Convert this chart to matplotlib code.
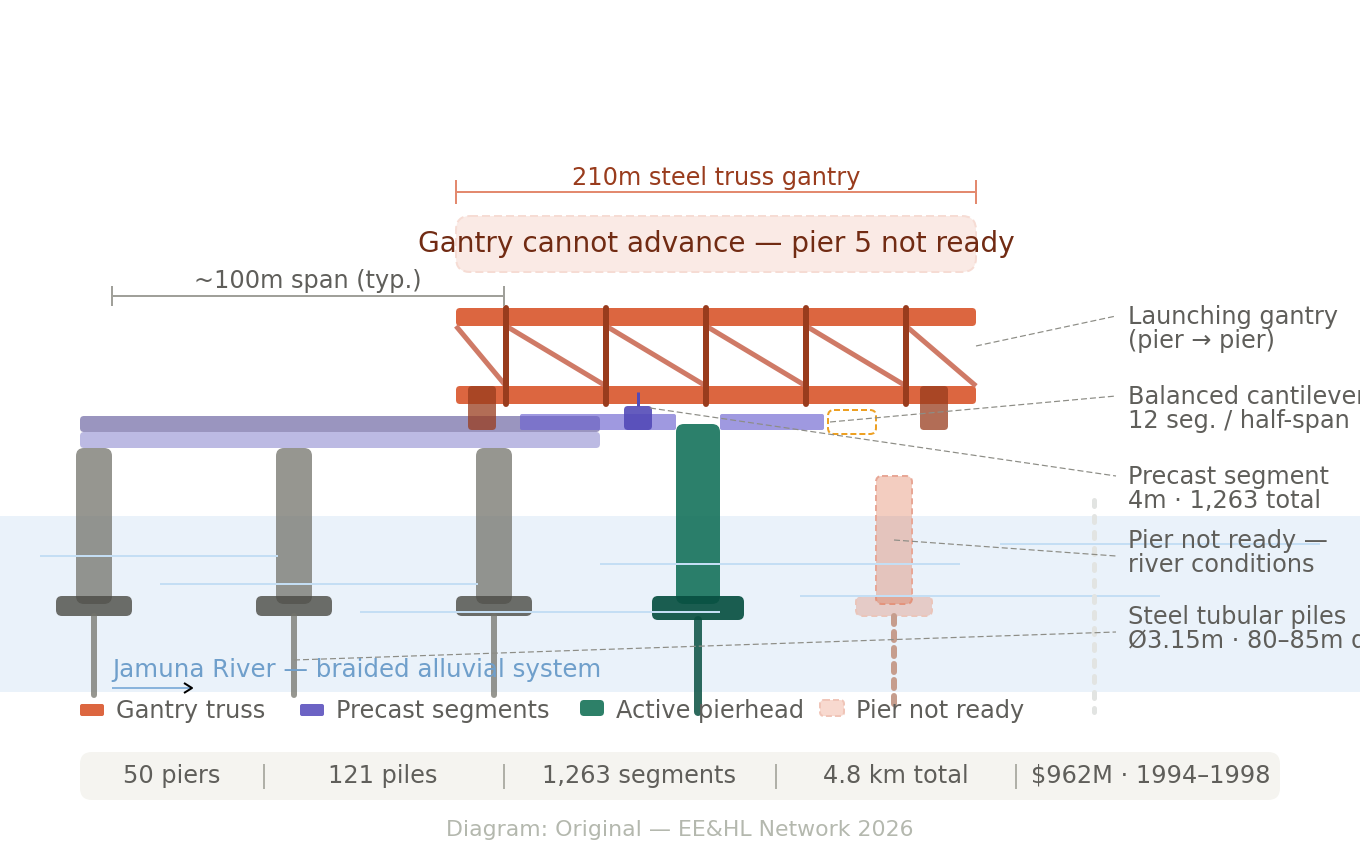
import matplotlib
matplotlib.use('Agg')
import matplotlib.pyplot as plt
from matplotlib.patches import FancyBboxPatch, Rectangle

plt.rcParams['font.family'] = ['DejaVu Sans']
plt.rcParams['lines.scale_dashes'] = False

PT = 0.72  # one output pixel in points

# Piers
done_pier_x = [94, 294, 494]
active_pier_x = 698
waiting_pier_x = 894
truss_post_x = [506, 606, 706, 806, 906]
truss_diag_x = [(456, 506), (506, 606), (606, 706), (706, 806), (806, 906), (906, 976)]
gantry_leg_x = [482, 934]

# River current lines: x0, x1, y
current_lines = [(40, 278, 556), (160, 478, 584), (360, 720, 612),
                 (600, 960, 564), (800, 1160, 596), (1000, 1320, 544)]

# Callouts: leader start, leader end, two text lines
callouts = [
    ((976, 346), (1116, 316), 'Launching gantry', '(pier → pier)', 324),
    ((830, 422), (1116, 396), 'Balanced cantilever', '12 seg. / half-span', 404),
    ((650, 408), (1116, 476), 'Precast segment', '4m · 1,263 total', 484),
    ((894, 540), (1116, 556), 'Pier not ready —', 'river conditions', 548),
    ((294, 660), (1116, 632), 'Steel tubular piles', 'Ø3.15m · 80–85m deep', 624),
]

legend_labels = ['Gantry truss', 'Precast segments', 'Active pierhead', 'Pier not ready']
legend_x = [80, 300, 580, 820]
stats = ['50 piers', '121 piles', '1,263 segments', '4.8 km total', '$962M · 1994–1998']
stats_x = [172, 383, 639, 896, 1151]
stats_sep_x = [264, 504, 776, 1016]

ORANGE = '#d85a30'
DARK_ORANGE = '#993c1d'
PURPLE = '#534ab7'
GREEN = '#0f6e56'
GREY = '#5f5e5a'
SOFT = '#7f7f78'


def box(ax, x0, y0, x1, y1, r, **kw):
    kw.setdefault('linewidth', 0)
    p = FancyBboxPatch((x0, y0), x1 - x0, y1 - y0,
                       boxstyle=f'round,pad=0,rounding_size={r}', **kw)
    ax.add_patch(p)
    return p


def line(ax, x, y, w, color, cap='butt', **kw):
    return ax.plot(x, y, color=color, lw=w * PT, solid_capstyle=cap,
                   dash_capstyle=cap, **kw)


def label(ax, x, y, s, size=24, color=GREY, ha='left', **kw):
    ax.text(x, y, s, fontsize=size * PT, color=color, ha=ha, va='baseline', **kw)


fig = plt.figure(figsize=(13.6, 8.6), dpi=100)
ax = fig.add_axes([0, 0, 1, 1])
ax.set_xlim(0, 1360)
ax.set_ylim(860, 0)
ax.axis('off')

# river
ax.add_patch(Rectangle((0, 516), 1360, 176, facecolor='#eaf2fa', linewidth=0))
for x0, x1, y in current_lines:
    line(ax, [x0, x1], [y, y], 2, '#c4def4')
label(ax, 112, 677, 'Jamuna River — braided alluvial system', size=24.5, color='#6f9fcb')
line(ax, [112, 190], [688, 688], 2, '#8ab4dc')
line(ax, [184, 192, 184], [683, 688, 693], 2, 'black')

# existing deck
box(ax, 80, 416, 600, 432, 4, facecolor='#9a95bf')
box(ax, 80, 432, 600, 448, 4, facecolor='#bcbae3')

# finished piers
for x in done_pier_x:
    box(ax, x - 18, 448, x + 18, 604, 8, facecolor='#73736b', alpha=0.75)
    box(ax, x - 38, 596, x + 38, 616, 6, facecolor='#4a4a44', alpha=0.8)
    line(ax, [x, x], [616, 695], 6, '#73736b', cap='round', alpha=0.75)

# active pier
box(ax, active_pier_x - 22, 424, active_pier_x + 22, 604, 8, facecolor=GREEN, alpha=0.88)
box(ax, active_pier_x - 46, 596, active_pier_x + 46, 620, 6, facecolor='#085041', alpha=0.92)
line(ax, [active_pier_x, active_pier_x], [620, 712], 8, '#085041', cap='round', alpha=0.85)

# pier not ready
box(ax, waiting_pier_x - 18, 476, waiting_pier_x + 18, 604, 6, facecolor=ORANGE, alpha=0.3)
box(ax, waiting_pier_x - 18, 476, waiting_pier_x + 18, 604, 6, facecolor='none',
    edgecolor='#e8a796', linewidth=2 * PT, linestyle=(0, (6 * PT, 4 * PT)))
box(ax, waiting_pier_x - 38, 596, waiting_pier_x + 38, 616, 6, facecolor=ORANGE, alpha=0.25)
box(ax, waiting_pier_x - 38, 596, waiting_pier_x + 38, 616, 6, facecolor='none',
    edgecolor='#eac5ba', linewidth=2 * PT, linestyle=(0, (6 * PT, 4 * PT)))
line(ax, [waiting_pier_x, waiting_pier_x], [616, 712], 6, '#c69d8d', cap='round',
     linestyle=(0, (8 * PT, 8 * PT)))

# future pier marker
line(ax, [1094, 1094], [500, 712], 5, '#e2e4e2', cap='round', linestyle=(0, (6 * PT, 10 * PT)))

# gantry truss
for (x0, x1) in truss_diag_x:
    line(ax, [x0, x1], [326, 386], 5, '#cf7a66')
box(ax, 456, 308, 976, 326, 4, facecolor='#dc6640')
box(ax, 456, 386, 976, 404, 4, facecolor='#dc6640')
for x in truss_post_x:
    line(ax, [x, x], [308, 404], 6, DARK_ORANGE, cap='round')

# precast segments
box(ax, 520, 414, 676, 430, 2, facecolor='#6c63d0', alpha=0.65)
box(ax, 720, 414, 824, 430, 2, facecolor='#6c63d0', alpha=0.65)
box(ax, 624, 406, 652, 430, 4, facecolor=PURPLE, alpha=0.9)
line(ax, [638, 638], [392, 406], 3, PURPLE)
box(ax, 828, 410, 876, 434, 6, facecolor='none', edgecolor='#eda023',
    linewidth=2 * PT, linestyle=(0, (6 * PT, 3 * PT)))

# gantry legs
for x in gantry_leg_x:
    box(ax, x - 14, 386, x + 14, 430, 4, facecolor=DARK_ORANGE, alpha=0.75)

# dimension lines
line(ax, [456, 976], [192, 192], 2, '#e38a6f')
for x in [456, 976]:
    line(ax, [x, x], [180, 204], 2, '#e38a6f')
label(ax, 716, 185, '210m steel truss gantry', color=DARK_ORANGE, ha='center')

line(ax, [112, 504], [296, 296], 2, '#a0a09a')
for x in [112, 504]:
    line(ax, [x, x], [286, 306], 2, '#a0a09a')
label(ax, 308, 288, '~100m span (typ.)', ha='center')

# alert
box(ax, 456, 216, 976, 272, 14, facecolor='#faeae5', edgecolor='#f6dcd4',
    linewidth=2 * PT, linestyle=(0, (8 * PT, 4 * PT)))
label(ax, 716, 252, 'Gantry cannot advance — pier 5 not ready', size=28, color='#712b13', ha='center')

# callouts
for start, end, top, bottom, y in callouts:
    ax.plot([start[0], end[0]], [start[1], end[1]], color='#8d8d86', lw=1.2 * PT,
            linestyle=(0, (6 * PT, 3 * PT)))
    label(ax, 1128, y, top)
    label(ax, 1128, y + 24, bottom)

# legend
box(ax, 80, 704, 104, 716, 2, facecolor='#dc6640')
box(ax, 300, 704, 324, 716, 2, facecolor='#6c63c4')
box(ax, 580, 700, 604, 716, 4, facecolor='#2d8068')
box(ax, 820, 700, 844, 716, 4, facecolor='#f8d9cf', edgecolor='#f0c5b8',
    linewidth=2 * PT, linestyle=(0, (6 * PT, 3 * PT)))
for x, s, off in zip(legend_x, legend_labels, [36, 36, 36, 36]):
    label(ax, x + off, 718, s)

# stats bar
box(ax, 80, 752, 1280, 800, 12, facecolor='#f5f4f0')
for x, s in zip(stats_x, stats):
    label(ax, x, 783, s, ha='center')
for x in stats_sep_x:
    label(ax, x, 783, '|', color='#b0b0a8', ha='center')

label(ax, 680, 836, 'Diagram: Original — EE&HL Network 2026', size=22, color='#b4b8ae', ha='center')

fig.savefig('out.png', dpi=100)
